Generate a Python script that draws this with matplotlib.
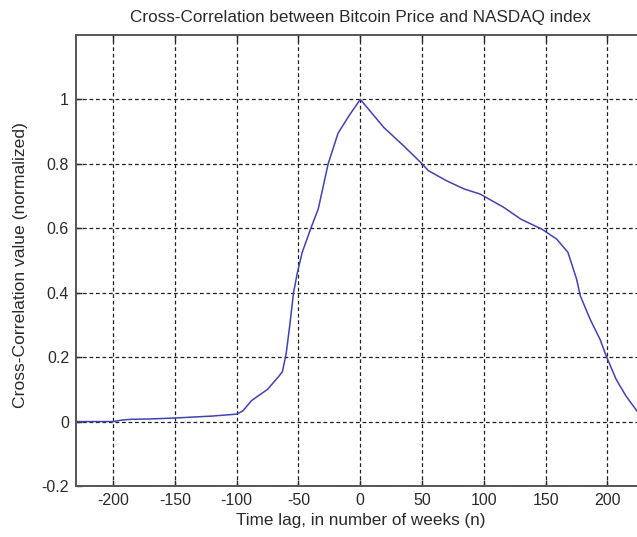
import matplotlib
matplotlib.use("Agg")
import matplotlib.pyplot as plt

lags = [-230, -200, -192, -185, -170, -150, -120, -100, -95, -88, -75, -66, -63,
        -60, -57, -54, -51, -47, -40, -34, -26, -18, -9, 0, 19, 35, 50, 55, 70,
        84, 97, 116, 130, 147, 159, 168, 175, 178, 186, 194, 199, 207, 215, 224, 230]
xcorr = [0.0, 0.0, 0.005, 0.007, 0.008, 0.011, 0.017, 0.023, 0.033, 0.065, 0.10,
         0.14, 0.155, 0.21, 0.30, 0.40, 0.46, 0.525, 0.60, 0.66, 0.80, 0.895, 0.95,
         1.0, 0.913, 0.856, 0.80, 0.779, 0.747, 0.722, 0.706, 0.665, 0.628, 0.597,
         0.566, 0.525, 0.442, 0.39, 0.317, 0.255, 0.203, 0.131, 0.079, 0.032, 0.01]
xticks = [-200, -150, -100, -50, 0, 50, 100, 150, 200]
yticks = [-0.2, 0, 0.2, 0.4, 0.6, 0.8, 1]
yticklabels = ["-0.2", "0", "0.2", "0.4", "0.6", "0.8", "1"]

plt.rcParams['font.family'] = ['Liberation Sans', 'DejaVu Sans']
plt.rcParams['axes.unicode_minus'] = False

fig = plt.figure(figsize=(6.37, 5.37), dpi=100)
ax = fig.add_axes([0.1193, 0.095, 0.8926, 0.8399])
ax.plot(lags, xcorr, color='#4242b0', linewidth=1.1)
ax.set_xlim(-230, 230)
ax.set_ylim(-0.2, 1.2)
ax.set_xticks(xticks)
ax.set_xticklabels([str(t) for t in xticks])
ax.set_yticks(yticks)
ax.set_yticklabels(yticklabels)
ax.grid(True, color='#202020', linestyle=(0, (3, 2.2)), linewidth=0.9)
ax.tick_params(direction='in', top=True, right=True, length=4, width=1,
               labelsize=11.5, colors='#2a2a2a', pad=5)
for s in ax.spines.values():
    s.set_color('#555555')
    s.set_linewidth(1.4)
ax.set_title("Cross-Correlation between Bitcoin Price and NASDAQ index",
             fontsize=12.3, color='#2a2a2a', pad=9)
ax.set_xlabel("Time lag, in number of weeks (n)", fontsize=12.3, color='#2a2a2a', labelpad=4)
ax.set_ylabel("Cross-Correlation value (normalized)", fontsize=12.6, color='#2a2a2a',
              labelpad=8)
ax.yaxis.set_label_coords(-0.085, 0.49)
fig.savefig("out.png", dpi=100)
